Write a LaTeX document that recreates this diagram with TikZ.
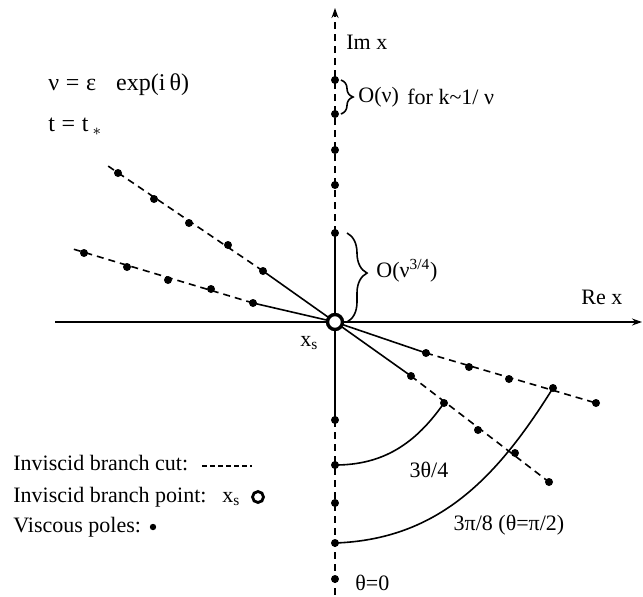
\documentclass[tikz,border=0pt]{standalone}
\usepackage{fontspec}
\setmainfont{Liberation Serif}
\usetikzlibrary{arrows.meta,decorations.pathreplacing}

\begin{document}
\begin{tikzpicture}[
    x=0.5pt, y=-0.5pt,
    font=\fontsize{11}{13}\selectfont,
    axis/.style={line width=0.7pt, -{Stealth[length=5pt,width=3.5pt]}},
    cut/.style={line width=0.8pt, dash pattern=on 3.5pt off 2.5pt},
    ray/.style={line width=0.8pt},
    pole/.style={circle, fill=black, inner sep=0pt, minimum size=4pt},
    bpoint/.style={circle, draw, fill=white, line width=1.7pt, inner sep=0pt, minimum size=7.5pt},
    lbl/.style={inner sep=0pt, anchor=west}
  ]
  \useasboundingbox (0,0) rectangle (643,596);

  % branch point and axis ends
  \coordinate (xs) at (335,322);
  \coordinate (rel) at (55,322);
  \coordinate (rer) at (642,322);
  \coordinate (imt) at (335,8);
  \coordinate (imb) at (335,596);

  % poles on the imaginary axis
  \foreach \y [count=\i] in {233,185,150,114,80} \coordinate (u\i) at (335,\y);
  \foreach \y [count=\i] in {420,465,503,543,579} \coordinate (d\i) at (335,\y);

  % poles on the four rays
  \foreach \px/\py [count=\i] in {263/271,228/245,189/223,154/199,118/173} \coordinate (c\i) at (\px,\py);
  \foreach \px/\py [count=\i] in {253/303,211/289,168/280,127/267,84/253} \coordinate (e\i) at (\px,\py);
  \foreach \px/\py [count=\i] in {426/353,469/367,509/379,553/388,596/403} \coordinate (a\i) at (\px,\py);
  \foreach \px/\py [count=\i] in {411/376,444/403,478/430,515/453,549/482} \coordinate (b\i) at (\px,\py);
  \coordinate (cend) at (108,166);
  \coordinate (eend) at (73,249);

  % axes
  \draw[axis] (rel) -- (rer);
  \draw[ray] (u1) -- (d1);
  \draw[cut, axis] (u1) -- (imt);
  \draw[cut] (d1) -- (imb);

  % rays
  \draw[ray] (xs) -- (c1);
  \draw[cut] (c1) -- (cend);
  \draw[ray] (xs) -- (e1);
  \draw[cut] (e1) -- (eend);
  \draw[ray] (xs) -- (a1);
  \draw[cut] (a1) -- (a5);
  \draw[ray] (xs) -- (b1);
  \draw[cut] (b1) -- (b5);

  % arcs
  \draw[ray] (d2) to[out=0, in=235] (b2);
  \draw[ray] (d4) to[out=2, in=238] (a4);

  % braces
  \draw[ray, decorate, decoration={brace, amplitude=6pt}] ([xshift=3pt]u5) -- ([xshift=3pt]u4);
  \draw[ray, decorate, decoration={brace, amplitude=10pt, aspect=0.45}] ([xshift=6pt]u1) -- ([xshift=6pt]xs);

  % poles
  \foreach \n in {u1,u2,u3,u4,u5,d1,d2,d3,d4,d5,c1,c2,c3,c4,c5,e1,e2,e3,e4,e5,a1,a2,a3,a4,a5,b1,b2,b3,b4,b5}
    \node[pole] (p\n) at (\n) {};
  \node[bpoint] (bp) at (xs) {};

  % labels
  \node[lbl] (imx) at (346,42) {Im x};
  \node[lbl] (rex) at (581,297) {Re x};
  \node[lbl] (xslbl) at (300,343) {x\textsubscript{s}};
  \node[lbl] (onu) at (358,97) {O(ν)};
  \node[lbl] (knu) at (407,97) {for k\textasciitilde1/ ν};
  \node[lbl] (onu34) at (376,271) {O(ν\textsuperscript{3/4})};
  \node (th34) at (429,470) {3θ/4};
  \node (pi38) at (509,525) {3π/8 (θ=π/2)};
  \node[lbl] (th0) at (355,583) {θ=0};
  \node[lbl, font=\fontsize{12}{14}\selectfont] (nudef) at (48,85) {ν\;=\;ε\hspace{10pt}exp(i\,θ)};
  \node[lbl, font=\fontsize{12}{14}\selectfont] (tdef) at (48,127) {t\;=\;t\,$_{\ast}$};

  % legend
  \node[lbl] (lgcut) at (13,463) {Inviscid branch cut:};
  \coordinate (lgc1) at (202,466);
  \coordinate (lgc2) at (252,466);
  \draw[line width=0.8pt, dash pattern=on 2.5pt off 1.5pt] (lgc1) -- (lgc2);
  \node[lbl] (lgpt) at (13,497) {Inviscid branch point:};
  \node[lbl] (lgxs) at (222,499) {x\textsubscript{s}};
  \node[bpoint, minimum size=5.5pt, line width=1.4pt] (lgbp) at (258,497) {};
  \node[lbl] (lgpol) at (13,527) {Viscous poles:};
  \node[pole, minimum size=3.2pt] (lgpole) at (153,527) {};
\end{tikzpicture}
\end{document}
